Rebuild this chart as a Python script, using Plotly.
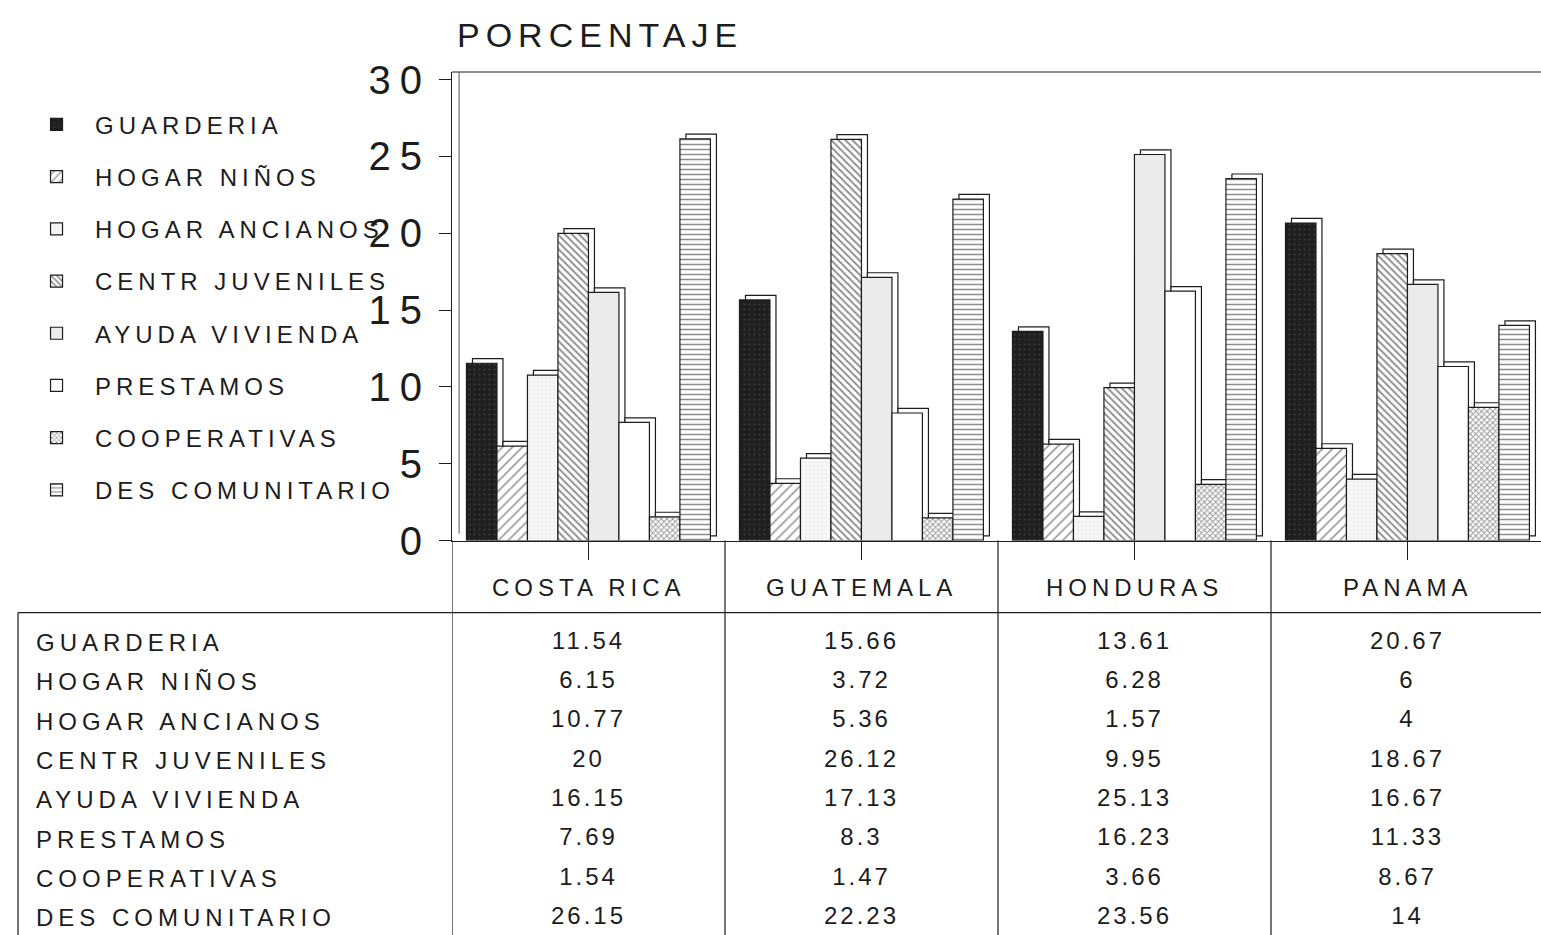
import plotly.graph_objects as go

# ---------------- data ----------------
countries = ["COSTA RICA", "GUATEMALA", "HONDURAS", "PANAMA"]
series_names = ["GUARDERIA", "HOGAR NIÑOS", "HOGAR ANCIANOS", "CENTR JUVENILES",
                "AYUDA VIVIENDA", "PRESTAMOS", "COOPERATIVAS", "DES COMUNITARIO"]
guarderia = [11.54, 15.66, 13.61, 20.67]
hogar_ninos = [6.15, 3.72, 6.28, 6]
hogar_ancianos = [10.77, 5.36, 1.57, 4]
centr_juveniles = [20, 26.12, 9.95, 18.67]
ayuda_vivienda = [16.15, 17.13, 25.13, 16.67]
prestamos = [7.69, 8.3, 16.23, 11.33]
cooperativas = [1.54, 1.47, 3.66, 8.67]
des_comunitario = [26.15, 22.23, 23.56, 14]
y_ticks = [0, 5, 10, 15, 20, 25, 30]

all_values = [guarderia, hogar_ninos, hogar_ancianos, centr_juveniles,
              ayuda_vivienda, prestamos, cooperativas, des_comunitario]

# ---------------- styles ----------------
FONT = "Liberation Sans, Arial, sans-serif"
INK = "#1c1c1c"
styles = [
    dict(color="#1e1e1e", pattern=dict(shape=".", fgcolor="#555555", bgcolor="#1e1e1e", size=5, solidity=0.15)),
    dict(color="white", pattern=dict(shape="/", fgcolor=INK, bgcolor="white", size=7, solidity=0.22)),
    dict(color="#f3f3f3", pattern=dict(shape=".", fgcolor="#dddddd", bgcolor="#f7f7f7", size=4, solidity=0.2)),
    dict(color="white", pattern=dict(shape="\\", fgcolor=INK, bgcolor="white", size=5, solidity=0.38)),
    dict(color="#ebebeb", pattern=dict(shape="", bgcolor="#ebebeb")),
    dict(color="white", pattern=dict(shape="")),
    dict(color="white", pattern=dict(shape="x", fgcolor="#333333", bgcolor="white", size=4, solidity=0.45)),
    dict(color="white", pattern=dict(shape="-", fgcolor=INK, bgcolor="white", size=5, solidity=0.3)),
]


def spaced(s, ls):
    return f'<span style="letter-spacing:{ls}px">{s}</span>'


# layout geometry: target pixel rows, adjusted for the capture's vertical scale
VS = 0.974


def d(pix):
    return pix / VS


W, H = 1541, 960
M_L = 452
M_T = d(70)
PLOT_H = H - M_T
AXIS_Y = d(538)       # value axis baseline
HDR_Y = d(610)        # table header rule
HDR_TXT = d(585)      # header text row
ROW0, ROW7 = d(640), d(915)


def py(pix):
    return (H - pix) / PLOT_H


x_idx = list(range(len(countries)))
bar_w = 0.1117
group_start = -0.447
depth_dx = 0.022
depth_dy = 0.3

fig = go.Figure()

# 3D depth (top/side faces) drawn behind
for i, vals in enumerate(all_values):
    fig.add_trace(go.Bar(
        x=x_idx, y=vals, base=depth_dy, width=bar_w,
        offset=group_start + i * bar_w + depth_dx,
        marker=dict(color="white", line=dict(color=INK, width=1.2)),
        showlegend=False, hoverinfo="skip",
    ))

# front faces
for i, (name, vals) in enumerate(zip(series_names, all_values)):
    st = styles[i]
    fig.add_trace(go.Bar(
        x=x_idx, y=vals, width=bar_w, offset=group_start + i * bar_w,
        name=spaced(name, 5), legendgroup=f"g{i}",
        marker=dict(color=st["color"], pattern=st["pattern"],
                    line=dict(color=INK, width=1.2)),
    ))

# data table values
tx, ty, tt = [], [], []
for r, vals in enumerate(all_values):
    for c, v in enumerate(vals):
        tx.append(c)
        ty.append(r)
        tt.append(spaced(str(v), 3))
fig.add_trace(go.Scatter(
    x=tx, y=ty, text=tt, mode="text", xaxis="x", yaxis="y2",
    textfont=dict(family=FONT, size=24, color=INK),
    showlegend=False, hoverinfo="skip", cliponaxis=False,
))

per_row = (ROW7 - ROW0) / 7
y2_top = -(ROW0 - AXIS_Y) / per_row
y2_bot = 7 + (H - ROW7) / per_row
hdr_row = -(ROW0 - HDR_TXT) / per_row

annotations = []
for r, name in enumerate(series_names):
    annotations.append(dict(
        x=-0.384, xref="paper", y=r, yref="y2", xanchor="left", yanchor="middle",
        text=spaced(name, 5), showarrow=False,
        font=dict(family=FONT, size=24, color=INK),
    ))
for c, name in enumerate(countries):
    annotations.append(dict(
        x=c, xref="x", y=hdr_row, yref="y2", xanchor="center", yanchor="middle",
        text=spaced(name, 5), showarrow=False,
        font=dict(family=FONT, size=24, color=INK),
    ))
annotations.append(dict(
    x=0.003, xref="paper", y=py(d(33)), yref="paper", xanchor="left", yanchor="middle",
    text=spaced("PORCENTAJE", 6), showarrow=False,
    font=dict(family=FONT, size=34, color=INK),
))

split = py(AXIS_Y)
shapes = []
shapes.append(dict(type="line", xref="paper", yref="paper", x0=0, x1=1, y0=1, y1=1,
                   line=dict(color=INK, width=1.2)))
shapes.append(dict(type="line", xref="paper", yref="paper", x0=0.0065, x1=0.0065, y0=split + 0.008, y1=1,
                   line=dict(color="#555555", width=1)))
for c in range(len(countries)):
    shapes.append(dict(type="line", xref="x", yref="paper", x0=c - 0.5, x1=c - 0.5, y0=0, y1=split,
                       line=dict(color=INK, width=1.2)))
shapes.append(dict(type="line", xref="paper", yref="paper", x0=-0.3985, x1=1, y0=py(HDR_Y), y1=py(HDR_Y),
                   line=dict(color=INK, width=1.2)))
shapes.append(dict(type="line", xref="paper", yref="paper", x0=-0.3985, x1=-0.3985, y0=0, y1=py(HDR_Y),
                   line=dict(color=INK, width=1.2)))

fig.update_layout(
    width=W, height=H,
    margin=dict(l=M_L, r=0, t=M_T, b=0),
    paper_bgcolor="white", plot_bgcolor="white",
    barmode="overlay",
    font=dict(family=FONT, color=INK),
    xaxis=dict(domain=[0, 1], range=[-0.5, 3.489], tickvals=x_idx, showticklabels=False,
               ticks="outside", ticklen=18, tickcolor=INK, showline=True, linecolor=INK,
               linewidth=1.2, showgrid=False, zeroline=False, anchor="y", fixedrange=True),
    yaxis=dict(domain=[split, 1], range=[0, 30.5], tickvals=y_ticks,
               ticktext=[spaced(str(t), 9) for t in y_ticks],
               tickfont=dict(family=FONT, size=40, color=INK),
               ticks="outside", ticklen=12, tickcolor=INK, showline=True, linecolor=INK,
               linewidth=1.2, showgrid=False, zeroline=False, anchor="x"),
    yaxis2=dict(domain=[0, split], range=[y2_bot, y2_top], visible=False, anchor="x"),
    legend=dict(x=-0.3985, xanchor="left", y=py(103), yanchor="top",
                font=dict(family=FONT, size=24, color=INK),
                itemwidth=67, tracegroupgap=18, bgcolor="rgba(0,0,0,0)",
                traceorder="grouped"),
    annotations=annotations,
    shapes=shapes,
)

fig.write_html(
    "out.html",
    config={"displayModeBar": False},
    post_script="document.body.style.margin='0';document.body.style.overflow='hidden';",
)
